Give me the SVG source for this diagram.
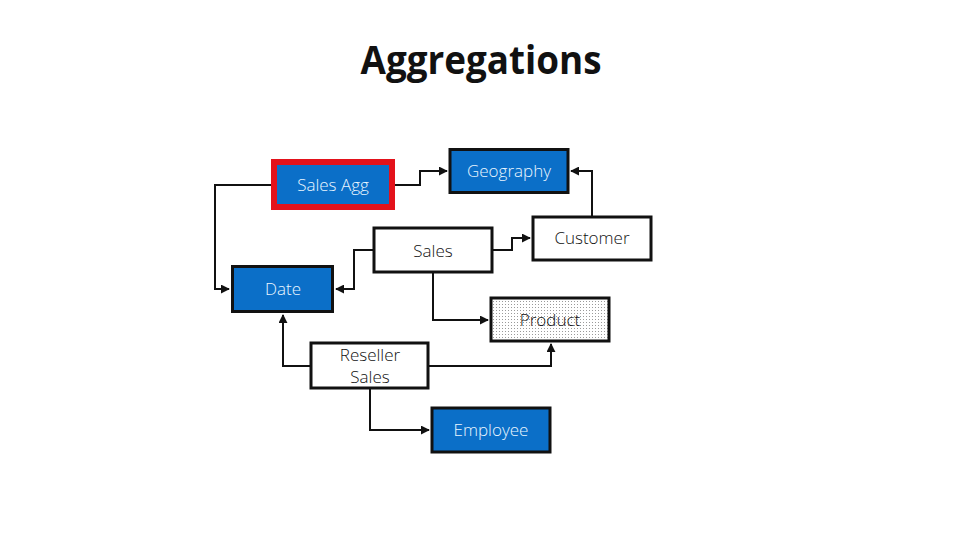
<svg xmlns="http://www.w3.org/2000/svg" width="960" height="540" viewBox="0 0 960 540">
<style>
.blue{fill:#0b6fc8;stroke:#111;stroke-width:3}
.white{fill:#fff;stroke:#111;stroke-width:3}
.lbl{font-family:"Open Sans","Noto Sans",sans-serif;font-weight:300;font-size:17px;text-anchor:middle;dominant-baseline:central}
.lw{fill:#eaf6ff}
.lk{fill:#111}
.conn path{fill:none;stroke:#111;stroke-width:2}
</style>
<defs>
<marker id="arr" viewBox="0 0 10 10" refX="9" refY="5" markerWidth="4.5" markerHeight="4.5" orient="auto" markerUnits="strokeWidth">
<path d="M0,0 L10,5 L0,10 z" fill="#111"/>
</marker>
<pattern id="dots" width="3" height="3" patternUnits="userSpaceOnUse">
<rect width="3" height="3" fill="#fff"/>
<rect x="1" y="1" width="1" height="1" fill="#9a9a9a"/>
</pattern>
</defs>
<rect width="960" height="540" fill="#fff"/>
<text x="481" y="74" font-family="Open Sans, Noto Sans, sans-serif" font-weight="bold" font-size="39" text-anchor="middle" fill="#111" textLength="241" lengthAdjust="spacingAndGlyphs">Aggregations</text>
<g class="conn">
<path d="M271,185 H215 V289 H229" marker-end="url(#arr)"/>
<path d="M395,185 H420 V171 H447" marker-end="url(#arr)"/>
<path d="M592,216 V171 H571" marker-end="url(#arr)"/>
<path d="M493,250 H512 V238 H530" marker-end="url(#arr)"/>
<path d="M373,250 H354 V289 H336" marker-end="url(#arr)"/>
<path d="M433,273 V320 H488" marker-end="url(#arr)"/>
<path d="M310,366 H283 V315" marker-end="url(#arr)"/>
<path d="M429,366 H551 V344" marker-end="url(#arr)"/>
<path d="M370,389 V430 H429" marker-end="url(#arr)"/>
</g>
<g id="sales-agg">
<rect x="274" y="162" width="118" height="45" fill="#0b6fc8" stroke="#e3121b" stroke-width="6"/>
<text class="lbl lw" x="333" y="184">Sales Agg</text>
</g>
<g id="geography">
<rect class="blue" x="450" y="149.5" width="118" height="43"/>
<text class="lbl lw" x="509" y="170">Geography</text>
</g>
<g id="customer">
<rect class="white" x="533" y="217" width="118" height="43"/>
<text class="lbl lk" x="592" y="237">Customer</text>
</g>
<g id="sales">
<rect class="white" x="374" y="228" width="118" height="44"/>
<text class="lbl lk" x="433" y="250">Sales</text>
</g>
<g id="date">
<rect class="blue" x="232.5" y="266.5" width="100" height="45"/>
<text class="lbl lw" x="283" y="288">Date</text>
</g>
<g id="product">
<rect x="491" y="298" width="118" height="43" fill="url(#dots)" stroke="#111" stroke-width="3"/>
<text class="lbl lk" x="550" y="319">Product</text>
</g>
<g id="reseller-sales">
<rect class="white" x="311" y="343" width="117" height="45"/>
<text class="lbl lk" x="370" y="354.5" font-size="16">Reseller</text>
<text class="lbl lk" x="370" y="376" font-size="16">Sales</text>
</g>
<g id="employee">
<rect class="blue" x="432" y="408" width="118" height="44"/>
<text class="lbl lw" x="491" y="429">Employee</text>
</g>
</svg>
